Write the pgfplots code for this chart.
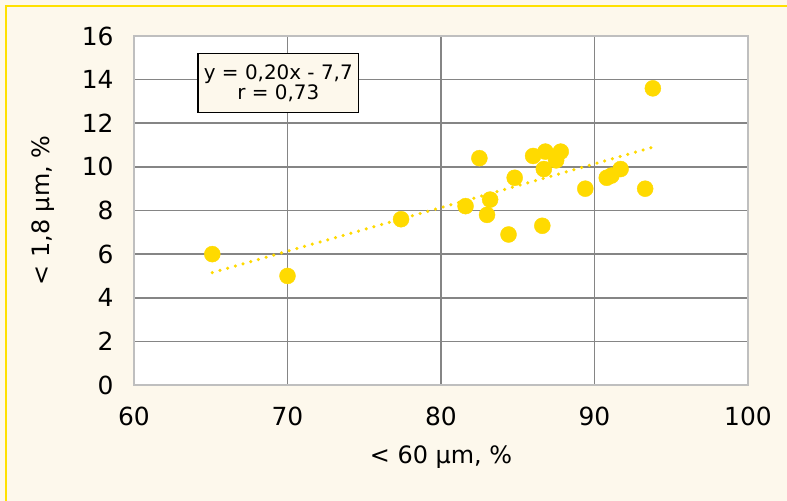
\documentclass[border=0pt]{standalone}
\usepackage{fontspec}
\setmainfont{DejaVu Sans}
\usepackage{pgfplots}
\pgfplotsset{compat=1.18}
\definecolor{bgcream}{HTML}{FDF8EC}
\definecolor{dotyel}{HTML}{FFDA00}
\definecolor{framey}{HTML}{FFE100}
\definecolor{gridg}{HTML}{858585}
\definecolor{axisg}{HTML}{BFBFBF}
\begin{document}
\begin{tikzpicture}
\useasboundingbox (-134bp,-116bp) rectangle (653bp,385bp);
\fill[bgcream] (-134bp,-116bp) rectangle (653bp,385bp);
\draw[framey,line width=2.5bp] (-128bp,-120bp) -- (-128bp,379bp) -- (660bp,379bp);
\begin{axis}[scale only axis,width=614bp,height=349bp,
 xmin=60,xmax=100,ymin=0,ymax=16,
 xtick={60,70,...,100},ytick={0,2,...,16},
 axis background/.style={fill=white},
 axis line style={axisg,line width=1.5bp},
 major grid style={gridg,line width=1.5bp},
 grid=major,tick style={draw=none},
 ticklabel style={font=\fontsize{25}{28}\selectfont},
 /pgf/number format/assume math mode=true,
 xticklabel style={yshift=-18bp},
 yticklabel style={xshift=-17bp},
 label style={font=\fontsize{24}{28}\selectfont},
 xlabel={< 60 µm, \%},ylabel={< 1,8 µm, \%},
 xlabel style={at={(axis description cs:0.5,-0.2063)},anchor=center},
 ylabel style={at={(axis description cs:-0.1482,0.5)},anchor=center},
 clip=false]
\addplot[only marks,mark=*,mark size=8bp,color=dotyel,mark options={fill=dotyel,draw=dotyel}] coordinates {
 (65.1,6.0) (70.0,5.0) (77.4,7.6) (81.6,8.2) (82.5,10.4) (83.0,7.8) (83.2,8.5)
 (84.4,6.9) (84.8,9.5) (86.0,10.5) (86.6,7.3) (86.8,10.7) (86.7,9.9) (87.5,10.3)
 (87.8,10.7) (89.4,9.0) (90.8,9.5) (91.1,9.6) (91.7,9.9) (93.3,9.0) (93.8,13.6)};
\addplot[dotyel,line width=3.5bp,line cap=round,dash pattern=on 0pt off 8bp] coordinates {
 (65.1,5.15) (93.8,10.9)};
\node[draw=black,line width=1.5bp,fill=bgcream,align=center,inner xsep=6bp,inner ysep=11bp,
 font=\fontsize{20}{19}\selectfont] at (axis cs:69.4,13.85) {y = 0,20x - 7,7\\r = 0,73};
\end{axis}
\end{tikzpicture}
\end{document}
